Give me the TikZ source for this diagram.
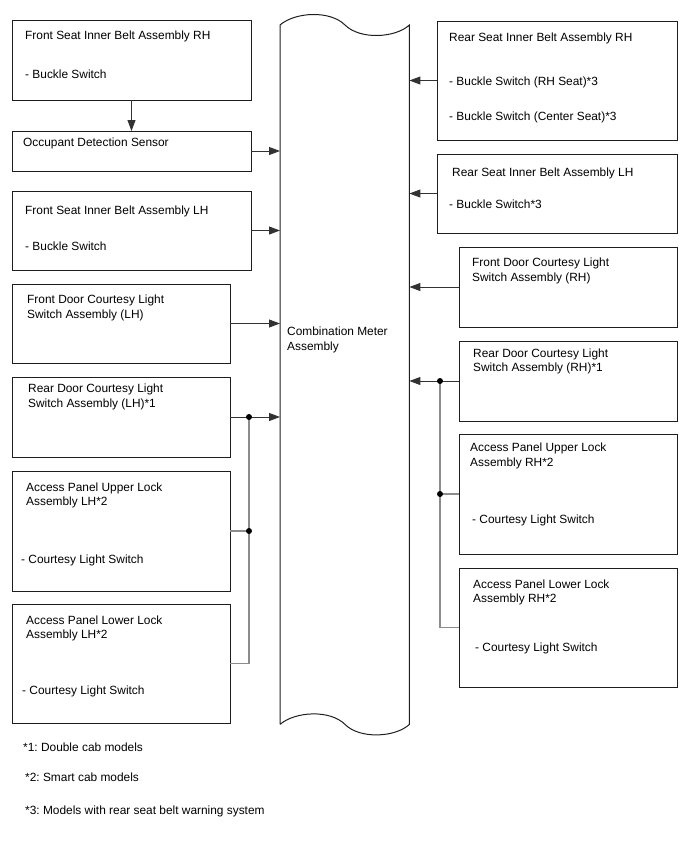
\documentclass[tikz,border=0pt]{standalone}
\usepackage{fontspec}
\setmainfont{Liberation Sans}
\usepackage{xcolor}
\usepackage{tikz}
\usetikzlibrary{positioning,arrows.meta,calc}
\frenchspacing
\definecolor{boxline}{RGB}{30,30,30}
\definecolor{wireline}{RGB}{50,50,50}
\definecolor{busline}{RGB}{140,140,140}
\tikzset{
  unit/.style={draw=boxline, line width=1pt, anchor=north west, inner sep=0pt, outer sep=0pt},
  wideunit/.style={unit, minimum width=239pt},
  narrowunit/.style={unit, minimum width=218pt},
  txt/.style={anchor=west, inner sep=0pt, align=left, font=\fontsize{11.9}{14.8}\selectfont},
  wire/.style={-{Triangle[length=11pt,width=8pt]}, line width=0.9pt, wireline},
  bus/.style={line width=1.4pt, busline},
  jdot/.style={circle, fill=black, inner sep=0pt, minimum size=6pt},
  meter/.style={line width=1pt, boxline}
}

\begin{document}
\begin{tikzpicture}[x=1pt, y=-1pt]
\useasboundingbox (0,0) rectangle (688,852);
% left column
\node (b1) [wideunit, minimum height=80pt] at (12,20) {};
\node (b2) [wideunit, minimum height=40pt] at (12,131) {};
\node (b3) [wideunit, minimum height=79pt] at (12,191) {};
\node (b4) [narrowunit, minimum height=79pt] at (12,284) {};
\node (b5) [narrowunit, minimum height=80pt] at (12,377) {};
\node (b6) [narrowunit, minimum height=120pt] at (12,471) {};
\node (b7) [narrowunit, minimum height=119pt] at (12,604) {};
\node (b1t) [txt] at ($(b1.north west)+(13,16)$) {Front Seat Inner Belt Assembly RH};
\node (b1s) [txt] at ($(b1.north west)+(13,54)$) {- Buckle Switch};
\node (b2t) [txt] at ($(b2.north west)+(11,12)$) {Occupant Detection Sensor};
\node (b3t) [txt] at ($(b3.north west)+(13,20)$) {Front Seat Inner Belt Assembly LH};
\node (b3s) [txt] at ($(b3.north west)+(13,55)$) {- Buckle Switch};
\node (b4t) [txt] at ($(b4.north west)+(15,24)$) {Front Door Courtesy Light\\Switch Assembly (LH)};
\node (b5t) [txt] at ($(b5.north west)+(16,20)$) {Rear Door Courtesy Light\\Switch Assembly (LH)*1};
\node (b6t) [txt] at ($(b6.north west)+(14,24.5)$) {Access Panel Upper Lock\\Assembly LH*2};
\node (b6s) [txt] at ($(b6.north west)+(9,89)$) {- Courtesy Light Switch};
\node (b7t) [txt] at ($(b7.north west)+(14,24.5)$) {Access Panel Lower Lock\\Assembly LH*2};
\node (b7s) [txt] at ($(b7.north west)+(10,87)$) {- Courtesy Light Switch};
% right column
\node (r1) [unit, minimum width=240pt, minimum height=119pt] at (437,21) {};
\node (r2) [unit, minimum width=240pt, minimum height=79pt] at (437,154) {};
\node (r3) [narrowunit, minimum height=80pt] at (459,247) {};
\node (r4) [narrowunit, minimum height=80pt] at (459,341) {};
\node (r5) [narrowunit, minimum height=120pt] at (459,434) {};
\node (r6) [narrowunit, minimum height=119pt] at (459,568) {};
\node (r1t) [txt] at ($(r1.north west)+(12,17)$) {Rear Seat Inner Belt Assembly RH};
\node (r1s) [txt] at ($(r1.north west)+(12,61)$) {- Buckle Switch (RH Seat)*3};
\node (r1c) [txt] at ($(r1.north west)+(12,96)$) {- Buckle Switch (Center Seat)*3};
\node (r2t) [txt] at ($(r2.north west)+(15,19)$) {Rear Seat Inner Belt Assembly LH};
\node (r2s) [txt] at ($(r2.north west)+(12,50)$) {- Buckle Switch*3};
\node (r3t) [txt] at ($(r3.north west)+(13,24)$) {Front Door Courtesy Light\\Switch Assembly (RH)};
\node (r4t) [txt] at ($(r4.north west)+(14,20.5)$) {Rear Door Courtesy Light\\Switch Assembly (RH)*1};
\node (r5t) [txt] at ($(r5.north west)+(11,22)$) {Access Panel Upper Lock\\Assembly RH*2};
\node (r5s) [txt] at ($(r5.north west)+(13,86)$) {- Courtesy Light Switch};
\node (r6t) [txt] at ($(r6.north west)+(14,24.5)$) {Access Panel Lower Lock\\Assembly RH*2};
\node (r6s) [txt] at ($(r6.north west)+(16,80)$) {- Courtesy Light Switch};
% combination meter
\node (cm) [anchor=north west, minimum width=129pt, minimum height=699pt, inner sep=0pt] at (280,25) {};
\draw[meter] (cm.south west) -- (cm.north west)
  .. controls +(15,-13) and +(-15,-15) .. ($(cm.north west)+(65,0)$)
  .. controls +(15,15) and +(-14,13) .. (cm.north east) -- (cm.south east)
  .. controls +(-14,13) and +(15,15) .. ($(cm.south west)+(65,0)$)
  .. controls +(-15,-15) and +(15,-13) .. (cm.south west);
\node (cmt) [txt] at ($(cm.north west)+(7,315)$) {Combination Meter\\Assembly};
% connectors
\draw[wire] (b1.south) -- (b2.north);
\draw[wire] (b2.east) -- (b2.east -| cm.west);
\draw[wire] (b3.east) -- (b3.east -| cm.west);
\draw[wire] (b4.east) -- (b4.east -| cm.west);
\coordinate (jl) at ($(b5.east)+(19,0)$);
\draw[bus] (jl) |- (b7.east);
\draw[bus] (b6.east) -- (b6.east -| jl);
\draw[wire] (b5.east) -- (b5.east -| cm.west);
\draw[wire] (r1.west) -- (r1.west -| cm.east);
\draw[wire] (r2.west) -- (r2.west -| cm.east);
\draw[wire] (r3.west) -- (r3.west -| cm.east);
\coordinate (jr) at ($(r4.west)+(-19,0)$);
\draw[bus] (jr) |- (r6.west);
\draw[bus] (r5.west) -- (r5.west -| jr);
\draw[wire] (r4.west) -- (r4.west -| cm.east);
\node (jl1) [jdot] at (jl) {};
\node (jl2) [jdot] at (b6.east -| jl) {};
\node (jr1) [jdot] at (jr) {};
\node (jr2) [jdot] at (r5.west -| jr) {};
% notes
\node (n1) [txt] at (23,747) {*1: Double cab models};
\node (n2) [txt] at (25,777) {*2: Smart cab models};
\node (n3) [txt] at (25,811) {*3: Models with rear seat belt warning system};
\end{tikzpicture}
\end{document}
